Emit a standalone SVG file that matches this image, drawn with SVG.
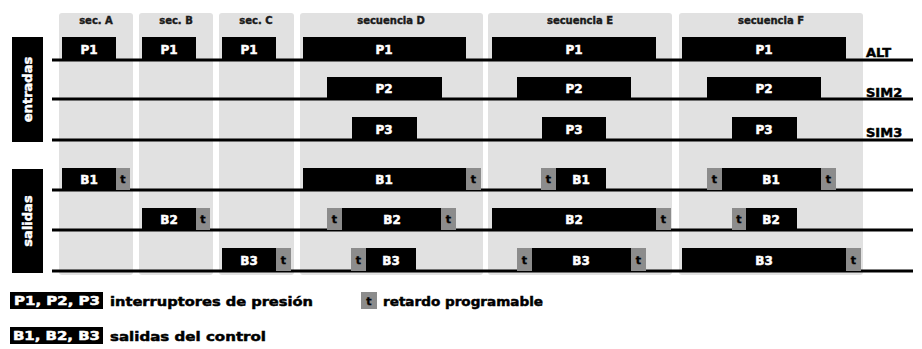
<svg xmlns="http://www.w3.org/2000/svg" width="922" height="349" viewBox="0 0 922 349">
<style>
.col{fill:#e1e1e1}
.hd{font-family:"DejaVu Sans","Liberation Sans",sans-serif;font-weight:bold;font-size:10px;fill:#1a1a1a;stroke:#1a1a1a;stroke-width:0.4;text-anchor:middle}
.p{fill:#000}
.t{fill:#8c8c8c}
.pl{font-family:"DejaVu Sans","Liberation Sans",sans-serif;font-weight:bold;font-size:12px;fill:#fff;stroke:#fff;stroke-width:0.5;text-anchor:middle}
.tl{font-family:"DejaVu Sans","Liberation Sans",sans-serif;font-weight:bold;font-size:11px;fill:#000;stroke:#000;stroke-width:0.4;text-anchor:middle}
.base{stroke:#000;stroke-width:3;fill:none}
.rl{font-family:"DejaVu Sans","Liberation Sans",sans-serif;font-weight:bold;font-size:13px;fill:#000;stroke:#000;stroke-width:0.5}
.vl{font-family:"DejaVu Sans","Liberation Sans",sans-serif;font-weight:bold;font-size:13px;fill:#fff;stroke:#fff;stroke-width:0.5;text-anchor:middle}
.lg{font-family:"DejaVu Sans","Liberation Sans",sans-serif;font-weight:bold;font-size:13px;fill:#000;stroke:#000;stroke-width:0.5}
.lgw{font-family:"DejaVu Sans","Liberation Sans",sans-serif;font-weight:bold;font-size:12px;fill:#fff;stroke:#fff;stroke-width:0.5}
</style>
<rect width="922" height="349" fill="#fff"/>
<g id="columns">
<rect class="col" x="59" y="13" width="74" height="262" rx="3"/>
<rect class="col" x="139" y="13" width="74" height="262" rx="3"/>
<rect class="col" x="219" y="13" width="75" height="262" rx="3"/>
<rect class="col" x="300" y="13" width="183" height="262" rx="3"/>
<rect class="col" x="488" y="13" width="184" height="262" rx="3"/>
<rect class="col" x="679" y="13" width="184" height="262" rx="3"/>
<text class="hd" x="96" y="24">sec. A</text>
<text class="hd" x="176" y="24">sec. B</text>
<text class="hd" x="256" y="24">sec. C</text>
<text class="hd" x="391" y="24">secuencia D</text>
<text class="hd" x="580" y="24">secuencia E</text>
<text class="hd" x="771" y="24">secuencia F</text>
</g>
<g id="side-labels">
<rect x="12" y="37" width="31" height="105" fill="#000"/>
<text class="vl" transform="translate(32,89.5) rotate(-90)">entradas</text>
<rect x="12" y="169" width="31" height="104" fill="#000"/>
<text class="vl" transform="translate(32,221) rotate(-90)">salidas</text>
</g>
<g id="connectors">
<line class="base" x1="52" y1="60" x2="913" y2="60"/>
<line class="base" x1="52" y1="99" x2="913" y2="99"/>
<line class="base" x1="52" y1="140" x2="913" y2="140"/>
<line class="base" x1="52" y1="190" x2="913" y2="190"/>
<line class="base" x1="52" y1="230" x2="913" y2="230"/>
<line class="base" x1="52" y1="271" x2="913" y2="271"/>
</g>
<g id="row-ALT">
<rect class="p" x="62" y="37" width="54" height="23"/><text class="pl" x="89" y="54">P1</text>
<rect class="p" x="142" y="37" width="54" height="23"/><text class="pl" x="169" y="54">P1</text>
<rect class="p" x="222" y="37" width="54" height="23"/><text class="pl" x="249" y="54">P1</text>
<rect class="p" x="303" y="37" width="163" height="23"/><text class="pl" x="384" y="54">P1</text>
<rect class="p" x="492" y="37" width="164" height="23"/><text class="pl" x="574" y="54">P1</text>
<rect class="p" x="682" y="37" width="164" height="23"/><text class="pl" x="764" y="54">P1</text>
<text class="rl" x="866" y="57">ALT</text>
</g>
<g id="row-SIM2">
<rect class="p" x="327" y="77" width="115" height="22"/><text class="pl" x="384" y="93">P2</text>
<rect class="p" x="517" y="77" width="114" height="22"/><text class="pl" x="574" y="93">P2</text>
<rect class="p" x="707" y="77" width="114" height="22"/><text class="pl" x="764" y="93">P2</text>
<text class="rl" x="866" y="97">SIM2</text>
</g>
<g id="row-SIM3">
<rect class="p" x="352" y="117" width="65" height="23"/><text class="pl" x="384" y="134">P3</text>
<rect class="p" x="542" y="117" width="64" height="23"/><text class="pl" x="574" y="134">P3</text>
<rect class="p" x="732" y="117" width="65" height="23"/><text class="pl" x="764" y="134">P3</text>
<text class="rl" x="866" y="137">SIM3</text>
</g>
<g id="row-B1">
<rect class="p" x="62" y="168" width="54" height="22"/><text class="pl" x="89" y="184">B1</text>
<rect class="t" x="116" y="168" width="14" height="22"/><text class="tl" x="123" y="183">t</text>
<rect class="p" x="303" y="168" width="163" height="22"/><text class="pl" x="384" y="184">B1</text>
<rect class="t" x="466" y="168" width="15" height="22"/><text class="tl" x="473.5" y="183">t</text>
<rect class="t" x="541" y="168" width="15" height="22"/><text class="tl" x="548.5" y="183">t</text>
<rect class="p" x="556" y="168" width="50" height="22"/><text class="pl" x="581" y="184">B1</text>
<rect class="t" x="707" y="168" width="15" height="22"/><text class="tl" x="714.5" y="183">t</text>
<rect class="p" x="722" y="168" width="99" height="22"/><text class="pl" x="771" y="184">B1</text>
<rect class="t" x="821" y="168" width="15" height="22"/><text class="tl" x="828.5" y="183">t</text>
</g>
<g id="row-B2">
<rect class="p" x="142" y="208" width="54" height="22"/><text class="pl" x="169" y="224">B2</text>
<rect class="t" x="196" y="208" width="14" height="22"/><text class="tl" x="203" y="223">t</text>
<rect class="t" x="327" y="208" width="15" height="22"/><text class="tl" x="334.5" y="223">t</text>
<rect class="p" x="342" y="208" width="99" height="22"/><text class="pl" x="392" y="224">B2</text>
<rect class="t" x="441" y="208" width="15" height="22"/><text class="tl" x="448.5" y="223">t</text>
<rect class="p" x="492" y="208" width="164" height="22"/><text class="pl" x="574" y="224">B2</text>
<rect class="t" x="656" y="208" width="15" height="22"/><text class="tl" x="663.5" y="223">t</text>
<rect class="t" x="732" y="208" width="14" height="22"/><text class="tl" x="739" y="223">t</text>
<rect class="p" x="746" y="208" width="51" height="22"/><text class="pl" x="771" y="224">B2</text>
</g>
<g id="row-B3">
<rect class="p" x="222" y="248" width="54" height="23"/><text class="pl" x="249" y="265">B3</text>
<rect class="t" x="276" y="248" width="15" height="23"/><text class="tl" x="283.5" y="264">t</text>
<rect class="t" x="351" y="248" width="15" height="23"/><text class="tl" x="358.5" y="264">t</text>
<rect class="p" x="366" y="248" width="50" height="23"/><text class="pl" x="391" y="265">B3</text>
<rect class="t" x="517" y="248" width="15" height="23"/><text class="tl" x="524.5" y="264">t</text>
<rect class="p" x="532" y="248" width="99" height="23"/><text class="pl" x="581" y="265">B3</text>
<rect class="t" x="631" y="248" width="15" height="23"/><text class="tl" x="638.5" y="264">t</text>
<rect class="p" x="682" y="248" width="164" height="23"/><text class="pl" x="764" y="265">B3</text>
<rect class="t" x="846" y="248" width="15" height="23"/><text class="tl" x="853.5" y="264">t</text>
</g>
<g id="legend">
<rect x="10" y="292" width="93" height="17" fill="#000"/>
<text class="lgw" x="14" y="305" textLength="86" lengthAdjust="spacingAndGlyphs">P1, P2, P3</text>
<text class="lg" x="110" y="306" textLength="203" lengthAdjust="spacingAndGlyphs">interruptores de presión</text>
<rect x="10" y="327" width="93" height="17" fill="#000"/>
<text class="lgw" x="13" y="340" textLength="87" lengthAdjust="spacingAndGlyphs">B1, B2, B3</text>
<text class="lg" x="110" y="341" textLength="156" lengthAdjust="spacingAndGlyphs">salidas del control</text>
<rect class="t" x="361" y="292" width="16" height="17"/>
<text class="tl" x="369" y="305">t</text>
<text class="lg" x="383" y="306" textLength="160" lengthAdjust="spacingAndGlyphs">retardo programable</text>
</g>
</svg>
